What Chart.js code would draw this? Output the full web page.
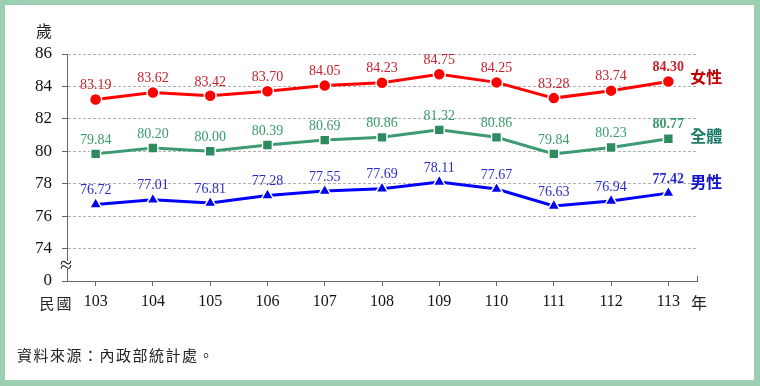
<!DOCTYPE html>
<html>
<head>
<meta charset="utf-8">
<script src="https://cdn.jsdelivr.net/npm/chart.js@4/dist/chart.umd.min.js"></script>
<style>
  html, body { margin: 0; padding: 0; }
  body { width: 760px; height: 386px; background: #9ccfb2; position: relative; overflow: hidden; }
  #panel { position: absolute; left: 5px; top: 5px; width: 749px; height: 375px; background: #fff; }
  #wrap { position: absolute; left: 0; top: 0; width: 760px; height: 386px; }
</style>
</head>
<body>
<div id="panel"></div>
<div id="wrap"><canvas id="chart" width="760" height="386"></canvas></div>
<script>
// 民國年
const years = ["103", "104", "105", "106", "107", "108", "109", "110", "111", "112", "113"];
const female = [83.19, 83.62, 83.42, 83.70, 84.05, 84.23, 84.75, 84.25, 83.28, 83.74, 84.30];
const total = [79.84, 80.20, 80.00, 80.39, 80.69, 80.86, 81.32, 80.86, 79.84, 80.23, 80.77];
const male = [76.72, 77.01, 76.81, 77.28, 77.55, 77.69, 78.11, 77.67, 76.63, 76.94, 77.42];
const seriesNames = ["女性", "全體", "男性"];
// y axis: 72 is shown as "0" (broken axis)
const yTicks = [72, 74, 76, 78, 80, 82, 84, 86];

const SERIF = "'Liberation Serif', 'Times New Roman', serif";
const CJK = "'Noto Sans CJK TC', sans-serif";

const labelColors = ["#c8202c", "#3a9a6c", "#2a2ad2"];
const nameColors = ["#c00000", "#1a7a66", "#1414c8"];
const nameShift = [-5, -3, -11];

// value labels + series names + axis captions
const annotate = {
  id: "annotate",
  afterDatasetsDraw(chart) {
    const ctx = chart.ctx;
    const area = chart.chartArea;
    ctx.save();
    chart.data.datasets.forEach((ds, i) => {
      const meta = chart.getDatasetMeta(i);
      ctx.fillStyle = labelColors[i];
      ctx.textAlign = "center";
      ctx.textBaseline = "middle";
      meta.data.forEach((pt, j) => {
        const last = j === ds.data.length - 1;
        ctx.font = (last ? "bold " : "") + "14px " + SERIF;
        ctx.fillText(ds.data[j].toFixed(2), pt.x, pt.y - 14);
      });
      const lastPt = meta.data[meta.data.length - 1];
      ctx.fillStyle = nameColors[i];
      ctx.font = "bold 16px " + CJK;
      ctx.textAlign = "left";
      ctx.fillText(seriesNames[i], lastPt.x + 22, lastPt.y + nameShift[i]);
    });

    ctx.fillStyle = "#222";
    ctx.textBaseline = "middle";
    ctx.font = "16px " + CJK;
    ctx.textAlign = "center";
    ctx.fillText("歲", 44, 31);
    ctx.fillText("年", 699, 303);
    ctx.font = "15px " + CJK;
    ctx.fillText("民", 47, 303);
    ctx.fillText("國", 64, 303);
    ctx.textAlign = "left";
    ctx.font = "15px " + CJK;
    ctx.letterSpacing = "1.5px";
    ctx.fillText("資料來源：內政部統計處。", 17, 355);
    ctx.letterSpacing = "0px";

    // axis break mark
    ctx.fillStyle = "#fff";
    ctx.fillRect(area.left - 5, 261, 10, 8);
    ctx.fillStyle = "#222";
    ctx.font = "22px " + SERIF;
    ctx.textAlign = "center";
    ctx.fillText("≈", area.left - 1, 266);

    // end tick on x axis
    ctx.strokeStyle = "#666";
    ctx.lineWidth = 1;
    ctx.beginPath();
    ctx.moveTo(area.right + 0.5, area.bottom);
    ctx.lineTo(area.right + 0.5, area.bottom - 5);
    ctx.stroke();
    ctx.restore();
  }
};

const ctx = document.getElementById("chart").getContext("2d");
new Chart(ctx, {
  type: "line",
  data: {
    labels: years,
    datasets: [
      {
        data: female,
        borderColor: "#ff0000",
        backgroundColor: "#ff0000",
        borderWidth: 3,
        pointStyle: "circle",
        pointRadius: 6,
        pointBorderColor: "#fff",
        pointBorderWidth: 1.5,
      },
      {
        data: total,
        borderColor: "#3c9a72",
        backgroundColor: "#2e8b5e",
        borderWidth: 3,
        pointStyle: "rect",
        pointRadius: 7,
        pointBorderColor: "#fff",
        pointBorderWidth: 1.5,
      },
      {
        data: male,
        borderColor: "#0000ff",
        backgroundColor: "#0000ee",
        borderWidth: 3,
        pointStyle: "triangle",
        pointRadius: 7,
        pointBorderColor: "#fff",
        pointBorderWidth: 1.5,
      },
    ],
  },
  options: {
    responsive: false,
    animation: false,
    devicePixelRatio: 1,
    layout: { padding: { top: 54, right: 63, left: 0, bottom: 0 } },
    plugins: {
      legend: { display: false },
      tooltip: { enabled: false },
    },
    scales: {
      x: {
        offset: true,
        afterFit: (s) => { s.height = 105; },
        grid: {
          offset: false,
          drawOnChartArea: false,
          tickLength: 5,
          tickColor: "#666",
        },
        border: { color: "#666", width: 1 },
        ticks: {
          padding: 6,
          color: "#111",
          maxRotation: 0,
          autoSkip: false,
          font: { family: SERIF, size: 16 },
        },
      },
      y: {
        min: 72,
        max: 86,
        afterFit: (s) => { s.width = 67; },
        afterBuildTicks: (s) => { s.ticks = yTicks.map((v) => ({ value: v })); },
        grid: {
          tickLength: 5,
          tickColor: "#666",
          color: (c) => (c.tick && c.tick.value === 72 ? "rgba(0,0,0,0)" : "#b0b0b0"),
        },
        border: { color: "#666", width: 1, dash: [3, 2] },
        ticks: {
          padding: 10,
          color: "#111",
          font: { family: SERIF, size: 17 },
          callback: (v) => (v === 72 ? "0" : v),
        },
      },
    },
  },
  plugins: [annotate],
});
</script>
</body>
</html>
